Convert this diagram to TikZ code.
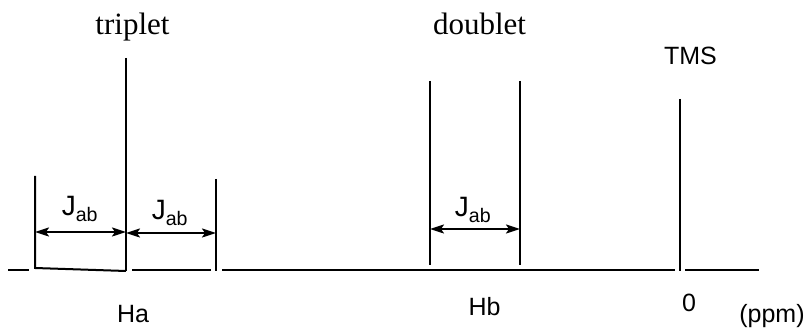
\documentclass[tikz,border=0pt]{standalone}
\usepackage{fontspec}
\setmainfont{Liberation Serif}
\setsansfont{Liberation Sans}
\usetikzlibrary{arrows.meta}

\begin{document}
\begin{tikzpicture}[x=1pt, y=-1pt, line width=2pt,
  sanslabel/.style={font=\sffamily\fontsize{25}{30}\selectfont, inner sep=0pt, anchor=base},
  jlabel/.style={font=\sffamily\fontsize{28}{32}\selectfont, inner sep=0pt, anchor=base},
  seriflabel/.style={font=\rmfamily\fontsize{31}{36}\selectfont, inner sep=0pt, anchor=base},
  coupling/.style={{Stealth[length=14pt,width=9pt,inset=3pt]}-{Stealth[length=14pt,width=9pt,inset=3pt]}, line width=2pt}]
\useasboundingbox (0,0) rectangle (809,328);

% peaks of the triplet, the doublet and TMS
\coordinate (ta top) at (35,176);   \coordinate (ta foot) at (35,268);
\coordinate (tb top) at (126,58);   \coordinate (tb foot) at (126,271);
\coordinate (tc top) at (216,179);  \coordinate (tc foot) at (216,271);
\coordinate (da top) at (430,81);   \coordinate (da foot) at (430,265);
\coordinate (db top) at (520,81);   \coordinate (db foot) at (520,265);
\coordinate (tms top) at (680,99);  \coordinate (tms foot) at (680,271);

\draw (ta top) -- (ta foot) -- (tb foot);
\draw (tb top) -- (tb foot);
\draw (tc top) -- (tc foot);
\draw (da top) -- (da foot);
\draw (db top) -- (db foot);
\draw (tms top) -- (tms foot);

% baseline pieces
\coordinate (b0) at (8,270);    \coordinate (b1) at (29,270);
\coordinate (b2) at (132,270);  \coordinate (b3) at (211,270);
\coordinate (b4) at (222,270.5);  \coordinate (b5) at (675,270.5);
\coordinate (b6) at (685,270.5);  \coordinate (b7) at (759,270.5);
\draw (b0) -- (b1);
\draw (b2) -- (b3);
\draw (b4) -- (b5);
\draw (b6) -- (b7);

% coupling constants
\coordinate (ja left) at (35,232);   \coordinate (ja right) at (126,232);
\coordinate (jb left) at (126,233);  \coordinate (jb right) at (216,233);
\coordinate (jc left) at (430,229);  \coordinate (jc right) at (520,229);
\draw[coupling] (ja left) -- (ja right);
\draw[coupling] (jb left) -- (jb right);
\draw[coupling] (jc left) -- (jc right);
\node[jlabel] (ja) at (80,216) {J\textsubscript{ab}};
\node[jlabel] (jb) at (170,220) {J\textsubscript{ab}};
\node[jlabel] (jc) at (473,217) {J\textsubscript{ab}};

% labels
\node[seriflabel] (triplet) at (132.5,35) {triplet};
\node[seriflabel] (doublet) at (479.5,35) {doublet};
\node[sanslabel] (tms) at (690.5,65) {TMS};
\node[sanslabel] (ha) at (133,323) {Ha};
\node[sanslabel] (hb) at (484.5,316) {Hb};
\node[sanslabel] (zero) at (689,312) {0};
\node[sanslabel] (ppm) at (772,323) {(ppm)};
\end{tikzpicture}
\end{document}
